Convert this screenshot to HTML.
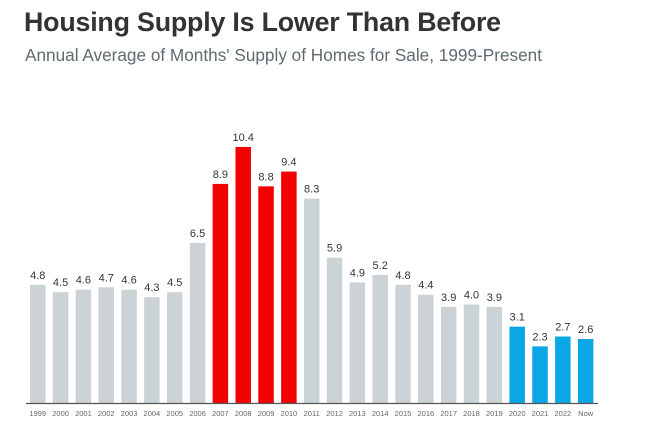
<!DOCTYPE html>
<html><head><meta charset="utf-8"><style>
body{margin:0;width:655px;height:422px;background:#fff;overflow:hidden;font-family:"Liberation Sans",Arial,sans-serif}
#title{position:absolute;left:24px;top:7px;font-size:26.8px;font-weight:bold;color:#333;letter-spacing:-0.2px}
#sub{position:absolute;left:25px;top:45px;font-size:17.2px;color:#5f6b70}
</style></head><body>
<div id="title">Housing Supply Is Lower Than Before</div>
<div id="sub">Annual Average of Months' Supply of Homes for Sale, 1999-Present</div>
<svg id="chart" width="655" height="422" style="position:absolute;left:0;top:0"></svg>
<script>
const categories=["1999","2000","2001","2002","2003","2004","2005","2006","2007","2008","2009","2010","2011","2012","2013","2014","2015","2016","2017","2018","2019","2020","2021","2022","Now"];
const values=[4.8,4.5,4.6,4.7,4.6,4.3,4.5,6.5,8.9,10.4,8.8,9.4,8.3,5.9,4.9,5.2,4.8,4.4,3.9,4.0,3.9,3.1,2.3,2.7,2.6];
const labels=["4.8","4.5","4.6","4.7","4.6","4.3","4.5","6.5","8.9","10.4","8.8","9.4","8.3","5.9","4.9","5.2","4.8","4.4","3.9","4.0","3.9","3.1","2.3","2.7","2.6"];
const groups=["g","g","g","g","g","g","g","g","r","r","r","r","g","g","g","g","g","g","g","g","g","b","b","b","b"];
const colors={g:"#ccd3d6",r:"#f40000",b:"#0aa6e6"};
const svg=document.getElementById('chart');const NS="http://www.w3.org/2000/svg";
const base=403,scale=24.62,x0=30,step=22.83,bw=15.5;
const x=i=>x0+i*step, y=v=>base-v*scale;
categories.forEach((c,i)=>{
 const r=document.createElementNS(NS,'rect');
 r.setAttribute('x',x(i));r.setAttribute('y',y(values[i]));r.setAttribute('width',bw);r.setAttribute('height',base-y(values[i]));r.setAttribute('fill',colors[groups[i]]);
 
 
 svg.appendChild(r);
 const t=document.createElementNS(NS,'text');
 t.setAttribute('x',x(i)+bw/2);t.setAttribute('y',y(values[i])-6);t.setAttribute('text-anchor','middle');t.setAttribute('font-size','11');t.setAttribute('fill','#333');t.textContent=labels[i];
 
 
 svg.appendChild(t);
 const l=document.createElementNS(NS,'text');
 l.setAttribute('x',x(i)+bw/2);l.setAttribute('y',416);l.setAttribute('text-anchor','middle');l.setAttribute('font-size','7.5');l.setAttribute('fill','#666');l.textContent=c;
 
 
 svg.appendChild(l);
});
const ax=document.createElementNS(NS,'line');
ax.setAttribute('x1',26);ax.setAttribute('x2',598);ax.setAttribute('y1',base+0.5);ax.setAttribute('y2',base+0.5);ax.setAttribute('stroke','#555');ax.setAttribute('stroke-width','1.2');


svg.appendChild(ax);
</script>
</body></html>
